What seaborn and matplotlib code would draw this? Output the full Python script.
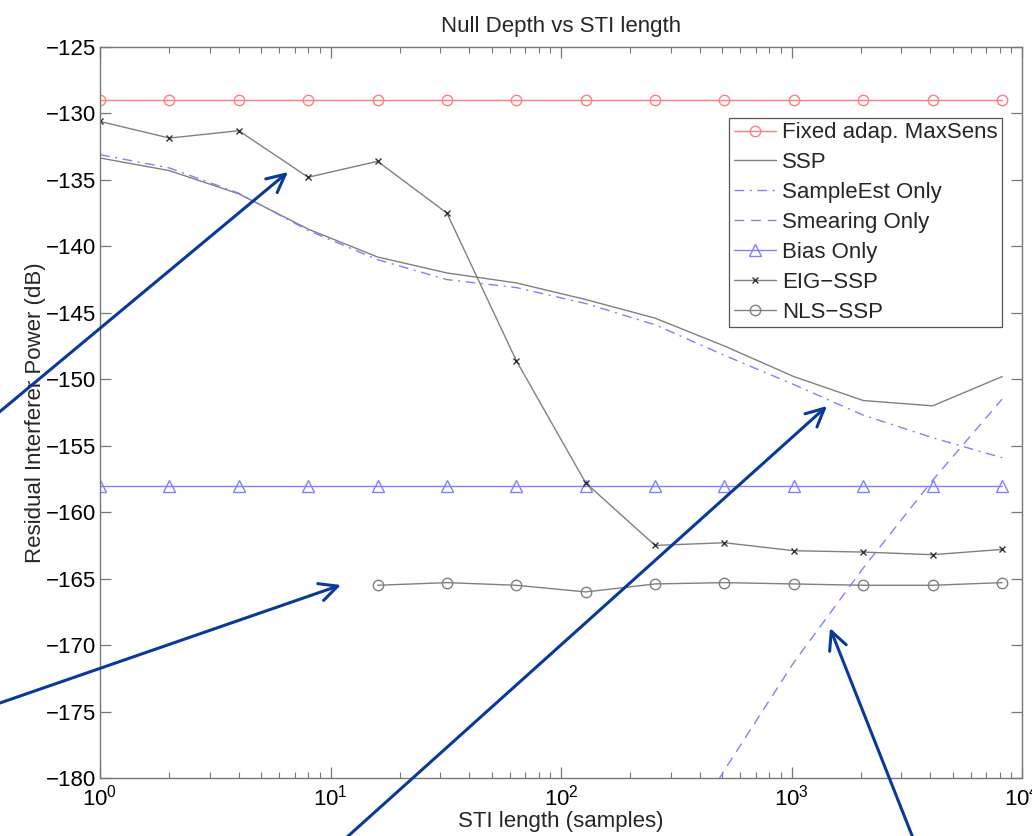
import numpy as np
import pandas as pd
import matplotlib
matplotlib.use("Agg")
import matplotlib.pyplot as plt
import seaborn as sns

# ---- data ----
sti = [1, 2, 4, 8, 16, 32, 64, 128, 256, 512, 1024, 2048, 4096, 8192]
fixed_maxsens = [-129.0] * 14
ssp = [-133.35, -134.3, -136.05, -138.7, -140.8, -142.0, -142.75, -144.0,
       -145.4, -147.5, -149.8, -151.6, -152.0, -149.8]
sample_est = [-133.1, -134.1, -136.0, -138.8, -141.0, -142.5, -143.1, -144.3,
              -145.9, -148.2, -150.4, -152.7, -154.4, -155.9]
smear_x = [256, 512, 1024, 2048, 4096, 8192]
smearing = [-188.0, -179.4, -171.3, -164.2, -157.6, -151.5]
bias_only = [-158.0] * 14
eig_ssp = [-130.6, -131.85, -131.3, -134.8, -133.6, -137.5, -148.6, -157.8,
           -162.5, -162.3, -162.9, -163.0, -163.2, -162.8]
nls_x = [16, 32, 64, 128, 256, 512, 1024, 2048, 4096, 8192]
nls_ssp = [-165.5, -165.3, -165.5, -166.0, -165.4, -165.3, -165.4, -165.5,
           -165.5, -165.3]

sns.set_style("ticks")
plt.rcParams["font.family"] = ["Liberation Sans", "DejaVu Sans"]
plt.rcParams["mathtext.default"] = "regular"

FS = 16
fig = plt.figure(figsize=(10.32, 8.36), dpi=100)
ax = fig.add_axes([100 / 1032, 58 / 836, 922 / 1032, 731 / 836])
ax.set_xscale("log")

red = "#ff7f7f"
gray = "#808080"
blue = "#8080ff"
lw = 1.0

sns.lineplot(x=sti, y=fixed_maxsens, ax=ax, color=red, lw=lw, marker="o",
             markersize=7.5, markerfacecolor="none", markeredgecolor=red,
             markeredgewidth=1.0, label="Fixed adap. MaxSens")
sns.lineplot(x=sti, y=ssp, ax=ax, color=gray, lw=lw, label="SSP")
sns.lineplot(x=sti, y=sample_est, ax=ax, color=blue, lw=lw,
             linestyle=(0, (7, 4, 1.5, 4)), label="SampleEst Only")
sns.lineplot(x=smear_x, y=smearing, ax=ax, color=blue, lw=lw,
             linestyle=(0, (7, 5)), label="Smearing Only")
sns.lineplot(x=sti, y=bias_only, ax=ax, color=blue, lw=lw, marker="^",
             markersize=8, markerfacecolor="none", markeredgecolor=blue,
             markeredgewidth=1.0, label="Bias Only")
sns.lineplot(x=sti, y=eig_ssp, ax=ax, color=gray, lw=lw, marker="x",
             markersize=5, markeredgecolor="#333333", markeredgewidth=1.0,
             label="EIG\u2212SSP")
sns.lineplot(x=nls_x, y=nls_ssp, ax=ax, color=gray, lw=lw, marker="o",
             markersize=7.5, markerfacecolor="none", markeredgecolor=gray,
             markeredgewidth=1.0, label="NLS\u2212SSP")

ax.set_xlim(1, 1e4)
ax.set_ylim(-180, -125)
ax.set_yticks(np.arange(-180, -124, 5))
ax.set_yticklabels([f"\u2212{abs(v)}" for v in range(-180, -124, 5)])

for s in ax.spines.values():
    s.set_color("#777777")
    s.set_linewidth(1.0)
ax.tick_params(which="both", direction="in", top=True, right=True,
               colors="#777777", labelcolor="black", labelsize=FS)
ax.tick_params(which="major", length=8, width=0.9)
ax.tick_params(which="minor", length=4, width=0.8)
ax.tick_params(axis="y", which="major", pad=3)
ax.tick_params(axis="x", which="major", pad=5)

ax.set_title("Null Depth vs STI length", fontsize=FS, pad=11)
ax.set_xlabel("STI length (samples)", fontsize=FS, labelpad=0)
ax.set_ylabel("Residual Interferer Power (dB)", fontsize=FS, labelpad=0)

leg = ax.legend(loc="upper right", bbox_to_anchor=(0.978, 0.903),
                fontsize=FS, frameon=True, fancybox=False, framealpha=1,
                edgecolor="#555555", handlelength=1.9, handletextpad=0.25,
                labelspacing=0.4, borderpad=0.2, borderaxespad=0)
leg.get_frame().set_linewidth(0.9)

# ---- annotation arrows (figure pixel coordinates, origin bottom-left) ----
arrow_col = "#0a3a99"
arrows = [((-3, 836 - 414), (288, 836 - 172)),
          ((-3, 836 - 704), (341, 836 - 585)),
          ((346, 836 - 838), (827, 836 - 406)),
          ((913, 836 - 838), (830, 836 - 628))]
for (tail, head) in arrows:
    ax.annotate("", xy=head, xycoords="figure pixels", xytext=tail,
                textcoords="figure pixels", annotation_clip=False,
                arrowprops=dict(arrowstyle="->,head_length=0.65,head_width=0.32",
                                color=arrow_col, lw=2.2, mutation_scale=20,
                                shrinkA=0, shrinkB=0))

fig.savefig("out.png", dpi=100)
